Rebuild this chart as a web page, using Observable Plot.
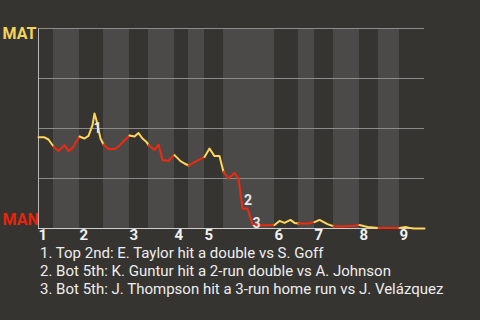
<!DOCTYPE html>
<html><head><meta charset="utf-8">
<script src="https://cdn.jsdelivr.net/npm/d3@7"></script>
<script src="https://cdn.jsdelivr.net/npm/@observablehq/plot@0.6"></script>
<style>
html,body{margin:0;padding:0;background:#363430;width:480px;height:320px;overflow:hidden}
#chart svg{display:block}
#notes{font-family:Roboto,sans-serif;font-size:15px;line-height:15px;color:#eeeeee;padding-left:40px;margin-top:1px;white-space:nowrap}
#notes div{margin-bottom:3px}
</style></head><body>
<div id="chart"></div>
<div id="notes"></div>
<script>
// Teams
const awayTeam = "MAT";
const homeTeam = "MAN";
// Half-inning start positions (game progress units) and end of game
const halfStarts = [0,15,41,65,91,110,136,150,166,185,236,260,276,295,321,340,361];
const gameEnd = 386;
// Inning tick labels
const innings = ["1","2","3","4","5","6","7","8","9"];
// Win probability for MAT across the game
const progress = [0,6,10,15,20,26,30,34,41,46,50,54,56,58,62,65,70,76,80,86,91,96,100,104,108,110,116,120,124,130,134,136,142,146,150,156,162,166,171,176,181,185,190,196,200,204,209,214,219,236,241,246,252,256,260,270,276,281,289,295,305,309,315,321,329,340,361,367,372,375,386];
const matWinProb = [.456,.456,.445,.41,.388,.417,.387,.403,.46,.45,.463,.517,.575,.54,.45,.42,.397,.397,.41,.44,.465,.46,.477,.45,.433,.417,.392,.42,.342,.338,.36,.367,.337,.325,.315,.332,.347,.358,.40,.362,.362,.283,.25,.278,.25,.10,.10,.02,.015,.017,.038,.028,.043,.028,.025,.025,.032,.043,.022,.011,.01,.013,.012,.017,.008,.003,.003,.008,.002,0,0];
// Key events
const eventLabels = ["1","2","3"];
const eventProgress = [56,204,214];
const eventNotes = [
  "1. Top 2nd: E. Taylor hit a double vs S. Goff",
  "2. Bot 5th: K. Guntur hit a 2-run double vs A. Johnson",
  "3. Bot 5th: J. Thompson hit a 3-run home run vs J. Velázquez"
];

const YELLOW = "#ffd65c", RED = "#ef2a0c";
const halves = halfStarts.map((s, i) => ({start: s, end: i + 1 < halfStarts.length ? halfStarts[i + 1] : gameEnd, i, top: i % 2 === 0}));
const points = progress.map((t, k) => ({t, p: matWinProb[k]}));
const lineData = halves.flatMap(h => points.filter(d => d.t >= h.start && d.t <= h.end).map(d => ({...d, half: h.i, top: h.top})));
const inningStarts = halves.filter(h => h.top).map(h => h.start);
const events = eventLabels.map((l, k) => {
  const t = eventProgress[k];
  const idx = progress.indexOf(t);
  return {label: l, t, p: matWinProb[idx]};
});

const font = "Roboto, sans-serif";
const chart = Plot.plot({
  width: 480, height: 245,
  marginTop: 28, marginBottom: 17, marginLeft: 38, marginRight: 56,
  style: {background: "#363430", fontFamily: font},
  x: {domain: [0, gameEnd], axis: null},
  y: {domain: [0, 1], axis: null},
  marks: [
    Plot.rect(halves.filter(h => !h.top), {x1: "start", x2: "end", y1: 0, y2: 1, fill: "#4b4a48", inset: 0}),
    Plot.ruleY([0.25, 0.5, 0.75, 1], {stroke: "#8b8b8b", strokeWidth: 1}),
    Plot.ruleY([0], {stroke: "#cfcfcf", strokeWidth: 1}),
    Plot.ruleX([0], {y1: 0, y2: 1, stroke: "#b8b8b8", strokeWidth: 1}),
    Plot.line(lineData, {x: "t", y: "p", z: "half", stroke: d => d.top ? YELLOW : RED, strokeWidth: 2, strokeLinejoin: "round", strokeLinecap: "round", curve: "linear"}),
    Plot.text([events[0]], {x: "t", y: "p", text: "label", dx: 3, dy: 15.5, fill: "#e8e8e8", fontSize: 14, fontWeight: "bold"}),
    Plot.text([events[1]], {x: "t", y: "p", text: "label", dx: 5.5, dy: -8, fill: "#e8e8e8", fontSize: 14, fontWeight: "bold"}),
    Plot.text([events[2]], {x: "t", y: "p", text: "label", dx: 4, dy: -1, fill: "#e8e8e8", fontSize: 14, fontWeight: "bold"}),
    Plot.text(innings, {x: (d, i) => inningStarts[i], y: () => 0, text: d => d, textAnchor: "start", dy: 7, fill: "#f0f0f0", fontSize: 15, fontWeight: "bold"}),
    Plot.text([awayTeam], {x: () => 0, y: () => 1, text: d => d, textAnchor: "start", dx: -36, dy: 5.3, fill: "#f3d45b", fontSize: 16, fontWeight: "bold"}),
    Plot.text([homeTeam], {x: () => 0, y: () => 0, text: d => d, textAnchor: "start", dx: -36, dy: -8.2, fill: "#ea230c", fontSize: 16, fontWeight: "bold"})
  ]
});
document.getElementById("chart").appendChild(chart);
const notes = document.getElementById("notes");
eventNotes.forEach(n => { const div = document.createElement("div"); div.textContent = n; notes.appendChild(div); });
</script>
</body></html>
